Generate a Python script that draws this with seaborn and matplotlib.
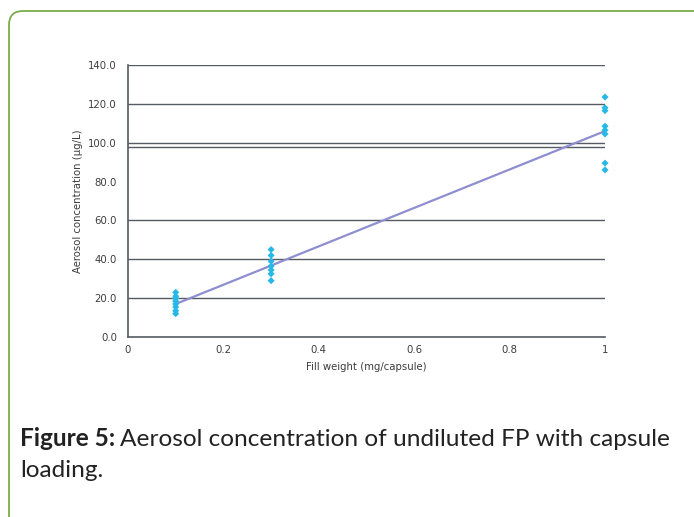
import matplotlib
matplotlib.use("Agg")
import matplotlib.pyplot as plt
import seaborn as sns
import pandas as pd
from matplotlib.patches import FancyBboxPatch
from matplotlib.transforms import IdentityTransform

# ---- data ----
fill_weight_01 = [0.1] * 8
conc_01 = [23.0, 21.0, 20.0, 18.5, 17.0, 15.5, 13.5, 12.0]
fill_weight_03 = [0.3] * 7
conc_03 = [45.0, 42.0, 39.0, 36.5, 34.5, 32.5, 29.0]
fill_weight_10 = [1.0] * 8
conc_10 = [123.5, 118.0, 116.5, 108.5, 106.5, 104.5, 89.5, 86.0]
fit_x = [0.1, 1.0]
fit_y = [17.0, 106.0]
gridline_levels = [20, 40, 60, 98, 100, 120, 140]
y_ticks = [0, 20, 40, 60, 80, 100, 120, 140]
x_ticks = [0, 0.2, 0.4, 0.6, 0.8, 1.0]
x_tick_labels = ["0", "0.2", "0.4", "0.6", "0.8", "1"]

df = pd.DataFrame({
    "x": fill_weight_01 + fill_weight_03 + fill_weight_10,
    "y": conc_01 + conc_03 + conc_10,
})
fit_df = pd.DataFrame({"x": fit_x, "y": fit_y})

sns.set_style("white")
W, H = 694, 517
fig = plt.figure(figsize=(W / 100, H / 100), dpi=100)
fig.patch.set_facecolor("white")

# rounded green frame
frame = FancyBboxPatch((9, -30), 720, 506 + 30, boxstyle="round,pad=0,rounding_size=14",
                       transform=IdentityTransform(), facecolor="none",
                       edgecolor="#78ad4a", linewidth=1.3)
fig.patches.append(frame)

ax = fig.add_axes([128 / W, (H - 337) / H, (605 - 128) / W, (337 - 65) / H])
ax.set_facecolor("none")
axis_col = "#555b60"
for lvl in gridline_levels:
    ax.axhline(lvl, color=axis_col, linewidth=1.0, zorder=1)

sns.lineplot(data=fit_df, x="x", y="y", ax=ax, color="#8e8ed0", linewidth=1.6, zorder=2)
sns.scatterplot(data=df, x="x", y="y", ax=ax, marker="D", s=13, color="#27b8e6",
                edgecolor="none", zorder=3, clip_on=False)

ax.set_xlim(0, 1)
ax.set_ylim(0, 140)
ax.set_yticks(y_ticks)
ax.set_yticklabels([f"{v:.1f}" for v in y_ticks])
ax.set_xticks(x_ticks)
ax.set_xticklabels(x_tick_labels)
for s in ["top", "right"]:
    ax.spines[s].set_visible(False)
for s in ["left", "bottom"]:
    ax.spines[s].set_color(axis_col)
    ax.spines[s].set_linewidth(1.2)
ax.tick_params(axis="both", direction="out", length=4, width=1.0, color=axis_col,
               labelsize=7.3, labelcolor="#3c3c3c", pad=2)
ax.tick_params(axis="y", length=5, pad=3)
ax.set_xlabel("Fill weight (mg/capsule)", fontsize=7.3, color="#3c3c3c", labelpad=5)
ax.set_ylabel("Aerosol concentration (µg/L)", fontsize=7.3, color="#3c3c3c", labelpad=4)

# caption
cap_font = "Lato"
cap_size = 17.6
renderer = fig.canvas.get_renderer()
t1 = fig.text(20 / W, (H - 446) / H, "Figure 5:", fontsize=cap_size, fontweight="bold",
              family=cap_font, color="#222222", va="baseline")
bb = t1.get_window_extent(renderer=renderer)
fig.text((bb.x1 + 5) / W, (H - 446) / H, "Aerosol concentration of undiluted FP with capsule",
         fontsize=cap_size, family=cap_font, color="#222222", va="baseline")
fig.text(20 / W, (H - 477) / H, "loading.", fontsize=cap_size, family=cap_font,
         color="#222222", va="baseline")

fig.savefig("out.png", dpi=100)
